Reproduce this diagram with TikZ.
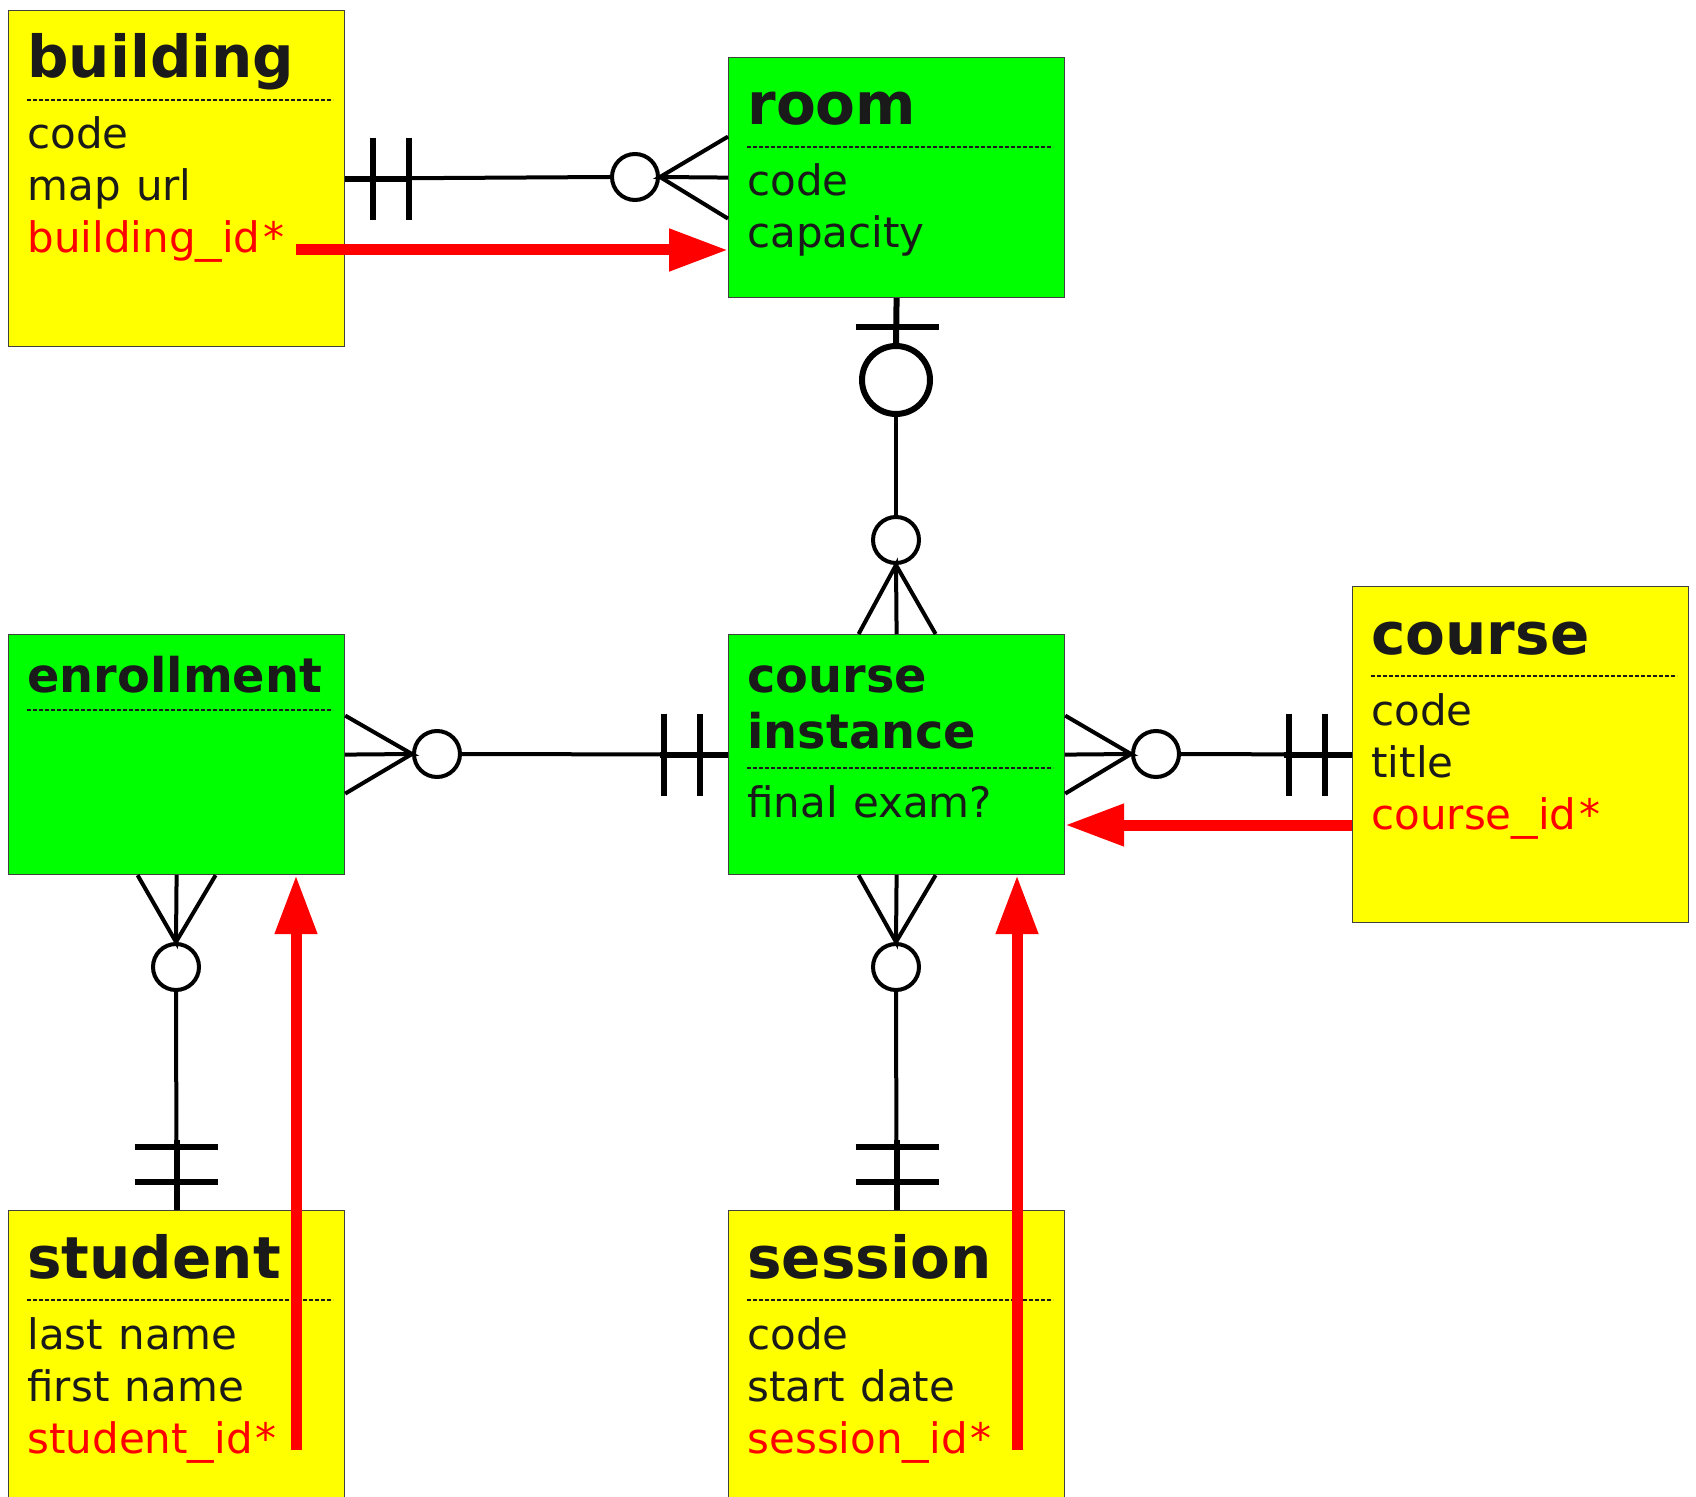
\documentclass[tikz,border=0pt]{standalone}
\usepackage{fontspec}
\usepackage{graphicx}
\setmainfont{DejaVu Sans}[WordSpace=1.15]
\usetikzlibrary{arrows.meta}
\definecolor{ylw}{HTML}{FFFF00}
\definecolor{grn}{HTML}{00FF00}
\definecolor{ink}{HTML}{1A1A1A}
\definecolor{fkred}{HTML}{FF0000}
\definecolor{boxline}{HTML}{404040}
\newcommand{\wus}{\scalebox{1.26}[1]{\_}}
\newcommand{\wast}{\kern1.5pt*}
\begin{document}
\begin{tikzpicture}[x=0.5pt,y=-0.5pt,
  ent/.style={draw=boxline, line width=0.6pt, anchor=north west, inner sep=0, minimum width=168pt},
  yent/.style={ent, fill=ylw, minimum height=168pt},
  gent/.style={ent, fill=grn, minimum height=120pt},
  ttl/.style={anchor=base west, inner sep=0, text=ink, font=\fontsize{29}{35}\selectfont\bfseries},
  sttl/.style={anchor=base west, inner sep=0, text=ink, font=\fontsize{23.9}{28}\selectfont\bfseries},
  attr/.style={anchor=base west, inner sep=0, text=ink, font=\fontsize{21}{26}\selectfont},
  fkattr/.style={attr, text=fkred},
  sepline/.style={draw=ink, line width=0.6pt, dash pattern=on 2pt off 1pt},
  lnk/.style={draw=black, line width=2pt},
  lnkthick/.style={draw=black, line width=3pt},
  bar/.style={draw=black, line width=3.25pt},
  zc/.style={circle, draw=black, fill=white, line width=2pt, minimum size=23pt, inner sep=0},
  bigzc/.style={circle, draw=black, fill=white, line width=3pt, minimum size=34pt, inner sep=0},
  fk/.style={draw=fkred, line width=5.5pt, -{Triangle[length=29.5pt,width=20pt]}}
]
\useasboundingbox (0,0) rectangle (1696,1497);

% ---------- entity boxes ----------
\node[yent] (building) at (8,10) {};
\node[gent] (room) at (728,57) {};
\node[gent] (enrollment) at (8,634) {};
\node[gent] (ci) at (728,634) {};
\node[yent] (course) at (1352,586) {};
\node[ent, fill=ylw, minimum height=150pt] (student) at (8,1210) {};
\node[ent, fill=ylw, minimum height=150pt] (session) at (728,1210) {};

% ---------- texts ----------
\node[ttl] (bT) at (27,78) {building};
\draw[sepline] (27,100) -- (333,100);
\node[attr] (b1) at (27,149) {code};
\node[attr] (b2) at (27,201) {map url};
\node[fkattr] (b3) at (27,253) {building\wus id\wast};

\node[ttl] (rT) at (747,125) {room};
\draw[sepline] (747,147) -- (1053,147);
\node[attr] (r1) at (747,196) {code};
\node[attr] (r2) at (747,248) {capacity};

\node[sttl] (enT) at (27,692) {enrollment};
\draw[sepline] (27,710) -- (333,710);

\node[sttl] (ciT1) at (747,692) {course};
\node[sttl] (ciT2) at (747,748) {instance};
\draw[sepline] (747,768) -- (1053,768);
\node[attr] (ci1) at (747,817) {final exam?};

\node[ttl] (cT) at (1371,654) {course};
\draw[sepline] (1371,676) -- (1677,676);
\node[attr] (c1t) at (1371,725) {code};
\node[attr] (c2t) at (1371,777) {title};
\node[fkattr] (c3t) at (1371,829) {course\wus id\wast};

\node[ttl] (sT) at (27,1278) {student};
\draw[sepline] (27,1300) -- (333,1300);
\node[attr] (s1) at (27,1349) {last name};
\node[attr] (s2) at (27,1401) {first name};
\node[fkattr] (s3) at (27,1453) {student\wus id\wast};

\node[ttl] (seT) at (747,1278) {session};
\draw[sepline] (747,1300) -- (1053,1300);
\node[attr] (se1) at (747,1349) {code};
\node[attr] (se2) at (747,1401) {start date};
\node[fkattr] (se3) at (747,1453) {session\wus id\wast};

% ---------- building -- room ----------
\node[zc] (z1) at (635,177) {};
\draw[lnk] (building.east) -- (z1.west);
\draw[lnkthick] (building.east) -- ++(64,0);
\draw[bar] (building.east) ++(28,-41) -- ++(0,82);
\draw[bar] (building.east) ++(64,-41) -- ++(0,82);
\draw[lnk] (room.west) ++(0,-41) -- (z1.east) -- (room.west);
\draw[lnk] (room.west) ++(0,41) -- (z1.east);

% ---------- room -- course instance ----------
\node[bigzc] (zb) at (896,380) {};
\node[zc] (z2) at (896,540) {};
\draw[lnkthick] (room.south) -- (zb.north);
\draw[bar] (room.south) ++(-41,29) -- ++(83,0);
\draw[lnk] (zb.south) -- (z2.north);
\draw[lnk] (ci.north) ++(-38,0) -- (z2.south) -- (ci.north);
\draw[lnk] (ci.north) ++(39,0) -- (z2.south);

% ---------- enrollment -- course instance ----------
\node[zc] (z3) at (437,754) {};
\draw[lnk] (enrollment.east) ++(0,-39) -- (z3.west) -- (enrollment.east);
\draw[lnk] (enrollment.east) ++(0,39) -- (z3.west);
\draw[lnk] (z3.east) -- (ci.west);
\draw[lnkthick] (ci.west) -- ++(-68,0);
\draw[bar] (ci.west) ++(-64,-41) -- ++(0,82);
\draw[bar] (ci.west) ++(-28,-41) -- ++(0,82);

% ---------- course instance -- course ----------
\node[zc] (z4) at (1156,754) {};
\draw[lnk] (ci.east) ++(0,-39) -- (z4.west) -- (ci.east);
\draw[lnk] (ci.east) ++(0,39) -- (z4.west);
\draw[lnk] (z4.east) -- (course.west);
\draw[lnkthick] (course.west) -- ++(-68,0);
\draw[bar] (course.west) ++(-63,-41) -- ++(0,82);
\draw[bar] (course.west) ++(-27,-41) -- ++(0,82);

% ---------- enrollment -- student ----------
\node[zc] (z5) at (176,967) {};
\draw[lnk] (enrollment.south) ++(-39,0) -- (z5.north) -- (enrollment.south);
\draw[lnk] (enrollment.south) ++(39,0) -- (z5.north);
\draw[lnk] (z5.south) -- (student.north);
\draw[lnkthick] (student.north) -- ++(0,-70);
\draw[bar] (student.north) ++(-42,-63) -- ++(83,0);
\draw[bar] (student.north) ++(-42,-28) -- ++(83,0);

% ---------- course instance -- session ----------
\node[zc] (z6) at (896,967) {};
\draw[lnk] (ci.south) ++(-38,0) -- (z6.north) -- (ci.south);
\draw[lnk] (ci.south) ++(39,0) -- (z6.north);
\draw[lnk] (z6.south) -- (session.north);
\draw[lnkthick] (session.north) -- ++(0,-70);
\draw[bar] (session.north) ++(-41,-63) -- ++(83,0);
\draw[bar] (session.north) ++(-41,-28) -- ++(83,0);

% ---------- foreign key arrows ----------
\coordinate (fkA) at (296,250);
\draw[fk] (fkA) -- (fkA -| room.west);
\coordinate (fkB) at (1352,825);
\draw[fk] (fkB) -- (fkB -| ci.east);
\coordinate (fkC) at (296,1450);
\draw[fk] (fkC) -- (fkC |- enrollment.south);
\coordinate (fkD) at (1017,1450);
\draw[fk] (fkD) -- (fkD |- ci.south);
\end{tikzpicture}
\end{document}
